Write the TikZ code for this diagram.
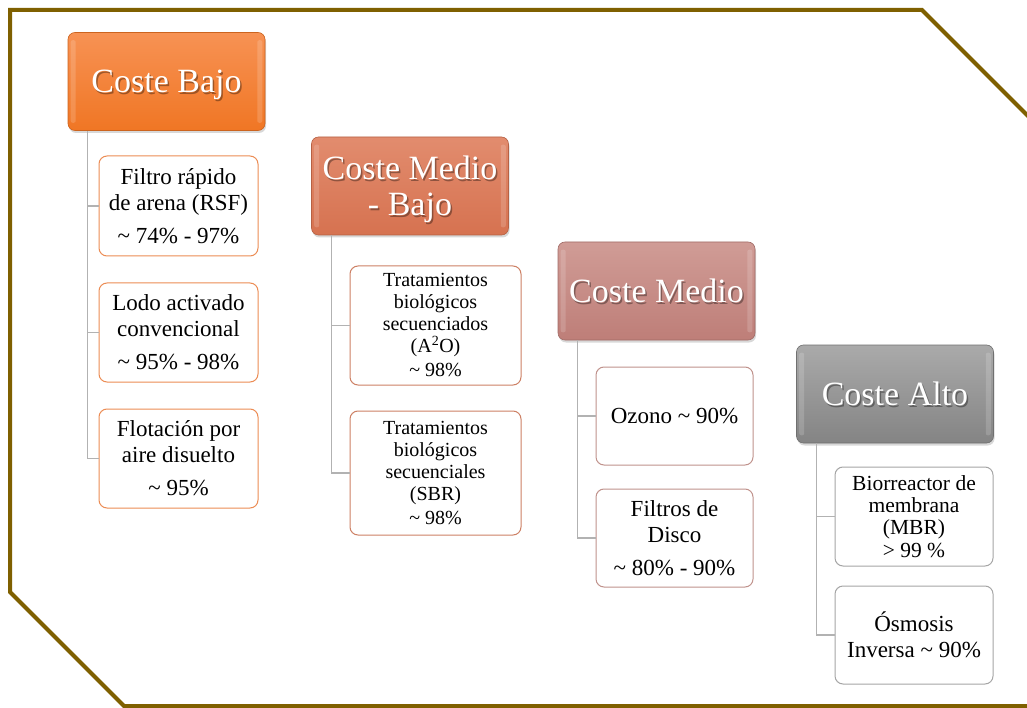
\documentclass[tikz,border=0pt]{standalone}
\usepackage{fontspec}
\setmainfont{Liberation Serif}
\usetikzlibrary{shadows,calc}

\definecolor{framebrown}{RGB}{127,96,0}
\definecolor{linkgray}{RGB}{178,178,178}
% header fills (top / bottom) and child borders per cost level
\definecolor{lowtop}{RGB}{247,146,84}
\definecolor{lowbot}{RGB}{240,118,36}
\definecolor{lowedge}{RGB}{236,140,84}
\definecolor{mltop}{RGB}{226,140,110}
\definecolor{mlbot}{RGB}{214,114,80}
\definecolor{mledge}{RGB}{205,128,100}
\definecolor{medtop}{RGB}{208,156,150}
\definecolor{medbot}{RGB}{190,126,120}
\definecolor{mededge}{RGB}{192,146,140}
\definecolor{hitop}{RGB}{170,170,170}
\definecolor{hibot}{RGB}{132,132,132}
\definecolor{hiedge}{RGB}{165,165,165}

\tikzset{
  hdrbox/.style args={#1/#2}{rounded corners=7pt, minimum width=197pt,
    minimum height=98pt, inner sep=0pt, top color=#1, bottom color=#2,
    draw=#2!85!black, line width=0.6pt,
    drop shadow={opacity=.3, shadow xshift=1pt, shadow yshift=-2.5pt}},
  hdrtext/.style={text=white, align=center, inner sep=0pt, text depth=0pt,
    font=\fontsize{34}{36}\selectfont},
  hdrshade/.style={hdrtext, text=black, opacity=.35},
  child/.style={draw=#1, line width=1pt, fill=white, rounded corners=8pt,
    align=center, inner sep=0pt},
  link/.style={draw=linkgray, line width=1.2pt},
  txtA/.style={font=\fontsize{23}{26}\selectfont},
  txtB/.style={font=\fontsize{20}{22}\selectfont},
  txtC/.style={font=\fontsize{21.5}{22}\selectfont},
}

% header: box, soft bevel highlights, text shadow, white text
\newcommand{\costheader}[5]{%
  \node[hdrbox=#3] (#1) at #2 {};
  \fill[white, opacity=.16, rounded corners=2pt]
    ($(#1.north west)+(3,8)$) rectangle ($(#1.south west)+(8,-8)$);
  \fill[white, opacity=.16, rounded corners=2pt]
    ($(#1.north east)+(-8,8)$) rectangle ($(#1.south east)+(-3,-8)$);
  \node[hdrshade] (#1-s) at ($(#1.center)+(1.5,1.8)$) {#5};
  \node[hdrtext] (#1-t) at (#1.center) {#4};
}

\begin{document}
\begin{tikzpicture}[x=1pt, y=-1pt]
\useasboundingbox (0,0) rectangle (1027,708);
\fill[white] (0,0) rectangle (1027,708);

% clipped-corner frame
\draw[framebrown, line width=4pt, line join=miter]
  (1040,128) -- (922,10) -- (10,10) -- (10,592) -- (124,706) -- (1040,706);

% headers
\costheader{hb1}{(166.5,81.5)}{lowtop/lowbot}{Coste Bajo}{Coste Bajo}
\costheader{hb2}{(410,186)}{mltop/mlbot}{Coste Medio\\- Bajo}{Coste Medio\\- Bajo}
\costheader{hb3}{(656.5,291)}{medtop/medbot}{Coste Medio}{Coste Medio}
\costheader{hb4}{(895,394)}{hitop/hibot}{Coste Alto}{Coste Alto}

% low cost
\node[child=lowedge, txtA, minimum width=159pt, minimum height=100pt] (c11) at (178.5,206)
  {Filtro rápido\\de arena (RSF)\\[7pt]\textasciitilde{} 74\% - 97\%};
\node[child=lowedge, txtA, minimum width=159pt, minimum height=99pt] (c12) at (178.5,332.5)
  {Lodo activado\\convencional\\[7pt]\textasciitilde{} 95\% - 98\%};
\node[child=lowedge, txtA, minimum width=159pt, minimum height=99pt] (c13) at (178.5,458.5)
  {Flotación por\\aire disuelto\\[7pt]\textasciitilde{} 95\%};

% medium-low cost
\node[child=mledge, txtB, minimum width=171pt, minimum height=119pt] (c21) at (435.5,325.5)
  {Tratamientos\\biológicos\\secuenciados\\(A\textsuperscript{2}O)\\[2pt]\textasciitilde{} 98\%};
\node[child=mledge, txtB, minimum width=171pt, minimum height=124pt] (c22) at (435.5,473)
  {Tratamientos\\biológicos\\secuenciales\\(SBR)\\[2pt]\textasciitilde{} 98\%};

% medium cost
\node[child=mededge, txtA, minimum width=157pt, minimum height=98pt] (c31) at (674.5,416)
  {Ozono \textasciitilde{} 90\%};
\node[child=mededge, txtA, minimum width=157pt, minimum height=98pt] (c32) at (674.5,538)
  {Filtros de\\Disco\\[7pt]\textasciitilde{} 80\% - 90\%};

% high cost
\node[child=hiedge, txtC, minimum width=158pt, minimum height=99pt, text depth=0pt] (c41) at (914,516.5)
  {Biorreactor de\\membrana\\(MBR)\\[1pt]> 99 \%};
\node[child=hiedge, txtA, minimum width=158pt, minimum height=98pt] (c42) at (914,635)
  {Ósmosis\\Inversa \textasciitilde{} 90\%};

% tree links
\foreach \h/\c in {hb1/c11, hb1/c12, hb1/c13, hb2/c21, hb2/c22,
                   hb3/c31, hb3/c32, hb4/c41, hb4/c42}
  \draw[link] ($(\h.south west)+(20,0)$) |- (\c.west);
\end{tikzpicture}
\end{document}
